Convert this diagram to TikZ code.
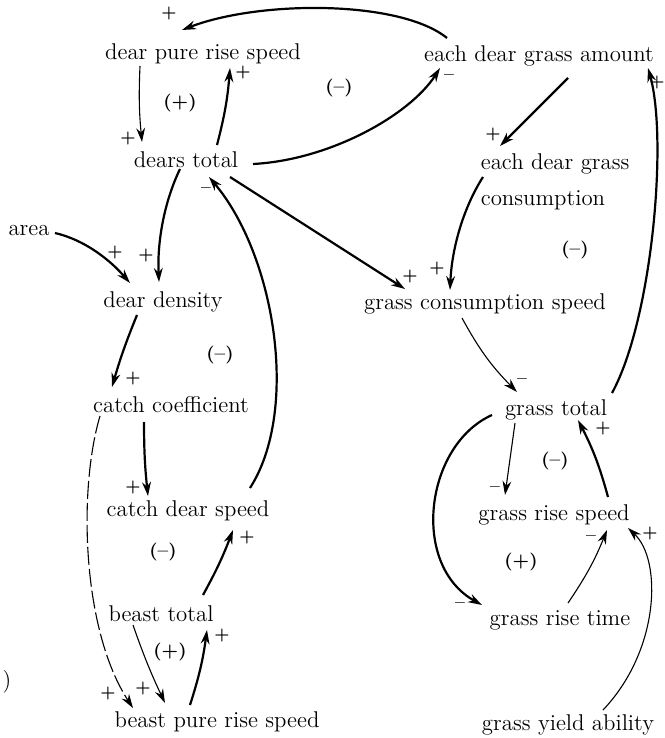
\documentclass[tikz,border=0pt]{standalone}
\usetikzlibrary{arrows.meta, calc}
\tikzset{
  every picture/.style={line width=0.9pt},
  term/.style={font=\fontsize{11.4}{13.7}\selectfont, inner sep=2pt},
  var/.style={term, text height=8pt, text depth=2pt, anchor=base},
  link/.style={-{Stealth[length=7pt, width=4.4pt]}, line width=1.1pt},
  thin link/.style={link, line width=0.55pt},
  pol/.style={font=\bfseries\footnotesize, inner sep=0pt},
  loopmark/.style={font=\bfseries\small, inner sep=0pt},
}

\begin{document}
\begin{tikzpicture}[x=0.5pt, y=-0.5pt]
  \useasboundingbox (0,0) rectangle (664,738);
  % deer side
  \node[var] (dps) at (203,60) {dear pure rise speed};
  \node[var] (dt) at (186,167) {dears total};
  \node[var] (area) at (29,235) {area};
  \node[var] (dd) at (163,307) {dear density};
  \node[var] (cc) at (171,412) {catch coefficient};
  \node[var] (cds) at (188,516) {catch dear speed};
  \node[var] (bt) at (161,621) {beast total};
  \node[var] (bprs) at (217,727) {beast pure rise speed};
  \node[var] (paren) at (7,687) {)};
  % grass side
  \node[var] (edga) at (539,62) {each dear grass amount};
  \node[term, anchor=north west, align=left] (edgc) at (476,149) {each dear grass\\[4pt]consumption};
  \node[var] (gcs) at (485,309) {grass consumption speed};
  \node[var] (gt) at (556,415) {grass total};
  \node[var] (grs) at (554,520) {grass rise speed};
  \node[var] (grt) at (560,625) {grass rise time};
  \node[var] (gya) at (568,730) {grass yield ability};

  \draw[link] ($(edga)+(-92,-18)$) .. controls +(-47,-38) and +(78,-30) .. ($(dps)+(-21,-24)$);
  \draw[thin link] ($(dps)+(-63,12)$) to[bend right=4] ($(dt)+(-44,-19)$);
  \draw[link] ($(dt)+(31,-16)$) to[bend right=5] ($(dps)+(27,14)$);
  \draw[link] ($(dt)+(67,3)$) .. controls +(77,-4) and +(-30,47) .. ($(edga)+(-99,12)$);
  \draw[link] ($(edga)+(29,22)$) -- ($(edgc.north west)+(24,-3)$);
  \draw[link] ($(edgc.north west)+(7,28)$) .. controls +(-18,28) and +(2,-45) .. ($(gcs)+(-35,-13)$);
  \draw[link] ($(dt)+(44,16)$) -- ($(gcs)+(-80,-14)$);
  \draw[link] ($(cds)+(62,-22)$) .. controls +(50,-78) and +(66,78) .. ($(dt)+(23,16)$);
  \draw[link] ($(dt)+(-6,8)$) .. controls +(-15,31) and +(-2,-42) .. ($(dd)+(-4,-19)$);
  \draw[link] ($(area)+(26,4)$) .. controls +(30,7) and +(-20,-23) .. ($(dd)+(-33,-18)$);
  \draw[link] ($(dd)+(-26,14)$) to[bend right=3] ($(cc)+(-59,-19)$);
  \draw[link] ($(cc)+(-27,16)$) to[bend right=3] ($(cds)+(-40,-14)$);
  \draw[thin link, dash pattern=on 9pt off 2pt] ($(cc)+(-71,10)$) .. controls +(-22,74) and +(-51,-78) .. ($(bprs)+(-84,-13)$);
  \draw[link] ($(bt)+(42,-20)$) to[bend right=4] ($(cds)+(45,20)$);
  \draw[thin link] ($(bt)+(-28,10)$) to[bend right=3] ($(bprs)+(-52,-18)$);
  \draw[link] ($(bprs)+(-27,-16)$) to[bend right=5] ($(bt)+(46,15)$);
  \draw[thin link] ($(gcs)+(-23,15)$) to[bend right=8] ($(gt)+(-39,-17)$);
  \draw[link] ($(gt)+(56,-16)$) .. controls +(40,-73) and +(20,72) .. ($(edga)+(109,12)$);
  \draw[thin link] ($(gt)+(-41,14)$) -- ($(grs)+(-49,-19)$);
  \draw[link] ($(grs)+(54,-17)$) to[bend right=6] ($(gt)+(22,11)$);
  \draw[link] ($(gt)+(-64,6)$) .. controls +(-67,30) and +(-72,-40) .. ($(grt)+(-78,-14)$);
  \draw[thin link] ($(grt)+(8,-16)$) to[bend right=6] ($(grs)+(53,16)$);
  \draw[thin link] ($(gya)+(35,-14)$) .. controls +(57,-60) and +(34,32) .. ($(grs)+(74,14)$);

  % polarity marks
  \foreach \n/\x/\y/\s in {1/169/14/+, 2/128/138/+, 3/243/73/+, 4/449/77/--, 5/493/134/+,
      6/437/268/+, 7/410/276/+, 8/206/190/--, 9/146/255/+, 10/115/252/+, 11/133/378/+,
      12/133/487/+, 13/108/693/+, 14/247/537/+, 15/143/688/+, 16/222/635/+, 17/522/381/--,
      18/657/83/+, 19/495/489/--, 20/603/428/+, 21/460/605/--, 22/591/538/--, 23/650/533/+}
    \node[pol] (s\n) at (\x,\y) {\s};
  % loops
  \foreach \n/\x/\y/\s in {1/180/103/{(+)}, 2/339/88/{(--)}, 3/575/250/{(--)}, 4/220/355/{(--)},
      5/555/461/{(--)}, 6/163/552/{(--)}, 7/170/652/{(+)}, 8/521/562/{(+)}}
    \node[loopmark] (l\n) at (\x,\y) {\s};
\end{tikzpicture}
\end{document}
